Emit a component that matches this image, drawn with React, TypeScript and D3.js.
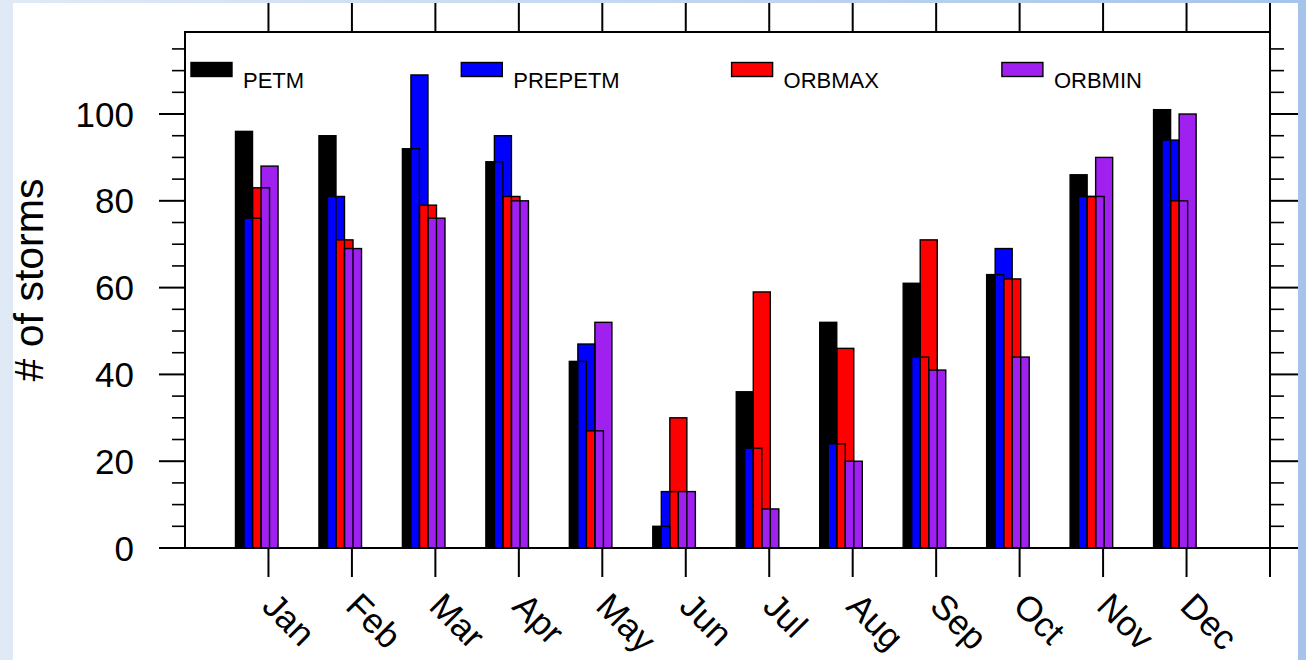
import * as d3 from "d3";

const W = 1306;
const H = 660;

const months = ["Jan", "Feb", "Mar", "Apr", "May", "Jun", "Jul", "Aug", "Sep", "Oct", "Nov", "Dec"];
const seriesNames = ["PETM", "PREPETM", "ORBMAX", "ORBMIN"];
const seriesColors = ["#000000", "#0000ff", "#ff0000", "#a020f0"];

const petm = [96, 95, 92, 89, 43, 5, 36, 52, 61, 63, 86, 101];
const prepetm = [76, 81, 109, 95, 47, 13, 23, 24, 44, 69, 81, 94];
const orbmax = [83, 71, 79, 81, 27, 30, 59, 46, 71, 62, 81, 80];
const orbmin = [88, 69, 76, 80, 52, 13, 9, 20, 41, 44, 90, 100];

const yMajor = [0, 20, 40, 60, 80, 100];

const allSeries = [petm, prepetm, orbmax, orbmin];

const plot = { left: 185, right: 1270, top: 32, bottom: 548 };
const font = "'Liberation Sans', Arial, Helvetica, sans-serif";

const App = () => {
  // x: month positions 1..12, with room on each side (0..13)
  const x = d3.scaleLinear().domain([0, 13]).range([plot.left, plot.right]);
  const y = d3.scaleLinear().domain([0, 118.9]).range([plot.bottom, plot.top]);

  const step = x(1) - x(0);
  const barW = 0.204 * step;
  const barShift = 0.102 * step;
  const barStart = -0.395 * step;

  const xTicks = d3.range(1, 14);
  const yMinor = d3.range(0, 119, 5).filter((v) => v % 20 !== 0);

  // one record per bar, fills drawn first then outlines on top
  const bars = allSeries.flatMap((vals, s) =>
    vals.map((v, i) => ({
      key: `${s}-${i}`,
      x: x(i + 1) + barStart + s * barShift,
      y: y(v),
      h: y(0) - y(v),
      color: seriesColors[s],
    }))
  );

  const legendX0 = 191;
  const legendStep = 270.3;

  return (
    <svg
      width={W}
      height={H}
      style={{ position: "absolute", left: 0, top: 0, display: "block" }}
    >
      <defs>
        <linearGradient id="bg" x1="0" x2="1" y1="0" y2="0">
          <stop offset="0%" stopColor="#e0eaf6" />
          <stop offset="100%" stopColor="#a6c4ea" />
        </linearGradient>
      </defs>
      <rect width={W} height={H} fill="url(#bg)" />
      <rect x={13} y={3} width={1285} height={H - 3} fill="#ffffff" />

      {/* Bars: fills */}
      <g>
        {bars.map((b) => (
          <rect key={b.key} x={b.x} y={b.y} width={barW} height={b.h} fill={b.color} />
        ))}
      </g>
      {/* Bars: outlines */}
      <g fill="none" stroke="#000" strokeWidth={1.4}>
        {bars.map((b) => (
          <rect key={b.key} x={b.x} y={b.y} width={barW} height={b.h} />
        ))}
      </g>

      {/* Frame */}
      <rect
        x={plot.left}
        y={plot.top}
        width={plot.right - plot.left}
        height={plot.bottom - plot.top}
        fill="none"
        stroke="#000"
        strokeWidth={2}
      />

      {/* X ticks top and bottom */}
      <g stroke="#000" strokeWidth={2}>
        {xTicks.map((t) => (
          <g key={t}>
            <line x1={x(t)} x2={x(t)} y1={plot.bottom} y2={plot.bottom + 29} />
            <line x1={x(t)} x2={x(t)} y1={plot.top} y2={plot.top - 29} />
          </g>
        ))}
      </g>

      {/* Y ticks left and right */}
      <g stroke="#000">
        {yMajor.map((v) => (
          <g key={v} strokeWidth={2}>
            <line x1={plot.left - 26} x2={plot.left} y1={y(v)} y2={y(v)} />
            <line x1={plot.right} x2={plot.right + 28} y1={y(v)} y2={y(v)} />
          </g>
        ))}
        {yMinor.map((v) => (
          <g key={v} strokeWidth={1.6}>
            <line x1={plot.left - 13} x2={plot.left} y1={y(v)} y2={y(v)} />
            <line x1={plot.right} x2={plot.right + 14} y1={y(v)} y2={y(v)} />
          </g>
        ))}
      </g>

      {/* Y tick labels */}
      <g fontFamily={font} fontSize={35} textAnchor="end" fill="#000">
        {yMajor.map((v) => (
          <text key={v} x={plot.left - 51} y={y(v)} dy="0.36em">
            {v}
          </text>
        ))}
      </g>

      {/* X tick labels */}
      <g fontFamily={font} fontSize={35} fill="#000">
        {months.map((m, i) => {
          const tx = x(i + 1) - 8;
          const ty = 608;
          return (
            <text key={m} x={tx} y={ty} transform={`rotate(45 ${tx} ${ty})`}>
              {m}
            </text>
          );
        })}
      </g>

      {/* Y axis title */}
      <text
        transform={`translate(43 ${280}) rotate(-90)`}
        textAnchor="middle"
        fontFamily={font}
        fontSize={41}
        fill="#000"
      >
        # of storms
      </text>

      {/* Legend */}
      <g fontFamily={font} fontSize={22} fill="#000">
        {seriesNames.map((name, i) => {
          const lx = legendX0 + i * legendStep;
          return (
            <g key={name}>
              <rect
                x={lx}
                y={62.5}
                width={41}
                height={14}
                fill={seriesColors[i]}
                stroke="#000"
                strokeWidth={1.4}
              />
              <text x={lx + 52} y={87.5}>
                {name}
              </text>
            </g>
          );
        })}
      </g>
    </svg>
  );
};

export default App;
